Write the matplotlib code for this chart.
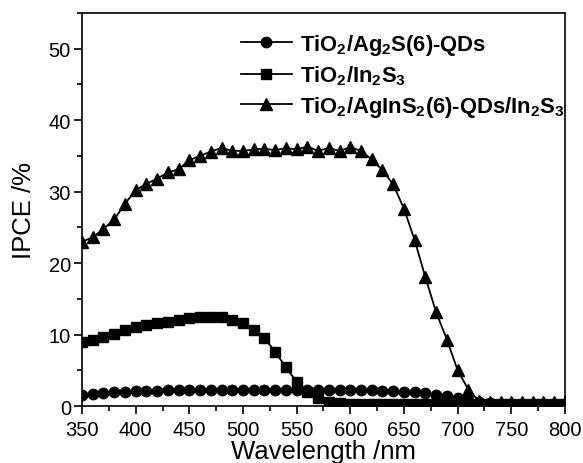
import matplotlib
matplotlib.use("Agg")
import matplotlib.pyplot as plt
import numpy as np
from matplotlib.ticker import MultipleLocator

plt.rcParams['font.family'] = ['Liberation Sans', 'DejaVu Sans']
plt.rcParams['mathtext.fontset'] = 'custom'
plt.rcParams['mathtext.bf'] = 'Liberation Sans:bold'
plt.rcParams['mathtext.rm'] = 'Liberation Sans'

# longitudes de onda (nm), cada 10 nm
wavelength = np.arange(350, 801, 10)

ipce_ag2s = [1.6, 1.7, 1.8, 1.9, 2.0, 2.05, 2.1, 2.15, 2.2, 2.2,
             2.25, 2.3, 2.3, 2.3, 2.3, 2.3, 2.3, 2.3, 2.3, 2.3,
             2.3, 2.3, 2.3, 2.3, 2.3, 2.25, 2.2, 2.2, 2.1, 2.1,
             2.0, 1.9, 1.8, 1.6, 1.35, 1.1, 0.85, 0.6, 0.45, 0.35,
             0.3, 0.3, 0.25, 0.25, 0.25, 0.25]

ipce_in2s3 = [9.0, 9.3, 9.7, 10.1, 10.6, 11.1, 11.4, 11.6, 11.8, 12.0,
              12.3, 12.5, 12.4, 12.5, 12.1, 11.6, 10.7, 9.5, 7.6, 5.4,
              3.4, 1.9, 1.1, 0.55, 0.4, 0.3, 0.3, 0.3, 0.3, 0.3,
              0.3, 0.3, 0.3, 0.3, 0.3, 0.3, 0.3, 0.3, 0.3, 0.3,
              0.3, 0.3, 0.3, 0.3, 0.3, 0.3]

ipce_agins2 = [23.0, 23.6, 24.8, 26.1, 28.3, 30.2, 31.1, 31.8, 32.7, 33.1,
               34.4, 35.0, 35.6, 36.1, 35.7, 35.7, 35.9, 36.0, 35.8, 36.1,
               35.9, 36.3, 35.7, 36.1, 35.7, 36.2, 35.7, 34.5, 33.0, 31.0,
               27.6, 23.2, 18.0, 13.1, 9.3, 5.0, 2.3, 0.7, 0.6, 0.6,
               0.6, 0.6, 0.6, 0.6, 0.6, 0.6]

etiquetas = [r'TiO$_\mathbf{2}$/Ag$_\mathbf{2}$S(6)-QDs',
             r'TiO$_\mathbf{2}$/In$_\mathbf{2}$S$_\mathbf{3}$',
             r'TiO$_\mathbf{2}$/AgInS$_\mathbf{2}$(6)-QDs/In$_\mathbf{2}$S$_\mathbf{3}$']

fig = plt.figure(figsize=(5.83, 4.64), dpi=100)
ax = fig.add_axes([0.1407, 0.1228, 0.8283, 0.8472])

ax.plot(wavelength, ipce_ag2s, '-o', color='black', lw=1.3, ms=7.5, label=etiquetas[0])
ax.plot(wavelength, ipce_in2s3, '-s', color='black', lw=1.3, ms=7.5, label=etiquetas[1])
ax.plot(wavelength, ipce_agins2, '-^', color='black', lw=1.3, ms=8.5, label=etiquetas[2])

ax.set_xlim(350, 800)
ax.set_ylim(0, 55)
ax.xaxis.set_major_locator(MultipleLocator(50))
ax.xaxis.set_minor_locator(MultipleLocator(25))
ax.yaxis.set_major_locator(MultipleLocator(10))
ax.yaxis.set_minor_locator(MultipleLocator(5))
ax.tick_params(which='major', direction='out', length=6, width=1.2, labelsize=14.5, pad=2)
ax.tick_params(axis='x', which='major', pad=4)
ax.tick_params(which='minor', direction='out', length=3.5, width=1.2)
for s in ax.spines.values():
    s.set_linewidth(1.2)

ax.set_xlabel('Wavelength /nm', fontsize=18.5, labelpad=0)
ax.set_ylabel('IPCE /%', fontsize=18.5, labelpad=9)

leg = ax.legend(loc='upper left', bbox_to_anchor=(0.31, 0.975), frameon=False,
                handlelength=2.35, handletextpad=0.35, labelspacing=0.32,
                prop={'weight': 'bold', 'size': 15.8}, borderaxespad=0)

fig.savefig('out.png', dpi=100)
